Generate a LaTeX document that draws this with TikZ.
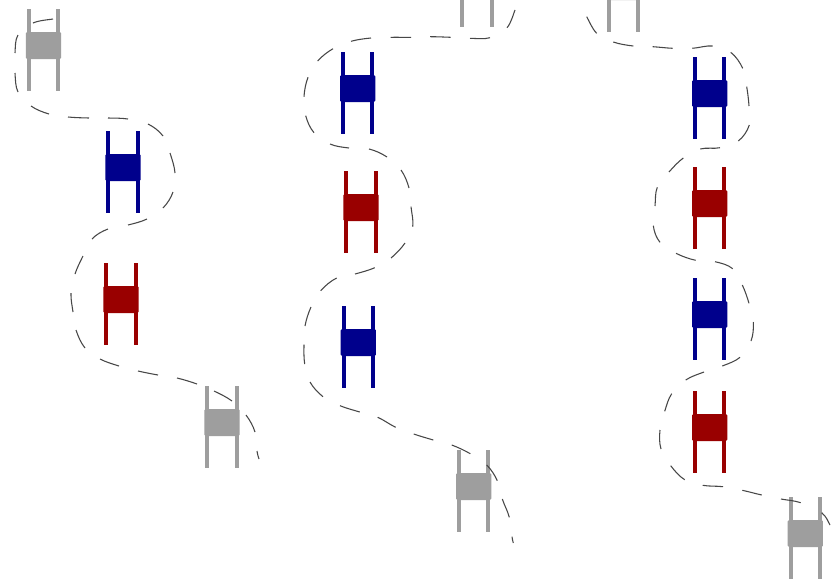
\documentclass[tikz,border=0pt]{standalone}
\usetikzlibrary{calc}
\definecolor{robblue}{RGB}{0,0,140}
\definecolor{robred}{RGB}{153,0,0}
\definecolor{robgray}{RGB}{158,158,158}
\tikzset{
  x=0.75pt,y=-0.75pt,
  trail/.style={draw=black!72,line width=0.8pt},
  leg/.style={line width=3pt},
  pics/robot/.style={code={
    \draw[leg,draw=#1] (-14.7,0) -- (-14.7,82);
    \draw[leg,draw=#1] (14.7,0) -- (14.7,82);
    \fill[#1,rounded corners=1pt] (-17.6,23) rectangle (17.6,50);
  }}
}
% Each pair of points in the list is one stroke of the broken trail;
% the curve of a stroke follows its neighbours in the list.
\newcommand\trailstrokes[1]{%
  \foreach \p [count=\n] in {#1} {\path \p coordinate (q\n); \xdef\qcount{\n}}
  \foreach \i in {1,3,...,\qcount} {
    \pgfmathtruncatemacro\qh{max(\i-1,1)}
    \pgfmathtruncatemacro\qj{\i+1}
    \pgfmathtruncatemacro\qk{min(\i+2,\qcount)}
    \draw[trail] (q\i) .. controls ($(q\i)+0.17*(q\qj)-0.17*(q\qh)$) and ($(q\qj)-0.17*(q\qk)+0.17*(q\i)$) .. (q\qj);
  }
}
\begin{document}
\begin{tikzpicture}
\clip (0,0) rectangle (834,579);
\fill[white] (0,0) rectangle (834,579);
% column 1
\pic at (43.5,9) {robot=robgray};
\pic at (123,131) {robot=robblue};
\pic at (121,263) {robot=robred};
\pic at (222,386) {robot=robgray};
% column 2
\pic at (477,-55) {robot=robgray};
\pic at (357.7,52) {robot=robblue};
\pic at (361,171) {robot=robred};
\pic at (358.3,306) {robot=robblue};
\pic at (473.7,450) {robot=robgray};
% column 3
\pic at (623.7,-50) {robot=robgray};
\pic at (709.7,57) {robot=robblue};
\pic at (709.7,167) {robot=robred};
\pic at (709.7,278) {robot=robblue};
\pic at (709.7,391) {robot=robred};
\pic at (805.3,497) {robot=robgray};
% trails
\trailstrokes{(53,19),(33,23),(18,35),(15,53),(15,73),(18,92),(31,106),(49,114),(68,117),(89,118),(108,118),(128,119),(148,124),(163,136),(170,153),(175,173),(173,192),(163,208),(147,219),(128,225),(108,229),(92,239),(83,256),(75,274),(71,293),(73,312),(76,330),(85,348),(100,359),(119,366),(138,371),(158,375),(177,378),(197,384),(214,391),(232,401),(246,415),(255,432),(257,451),(259,459)}
\trailstrokes{(515,10),(507,27.7),(490,37.7),(470,38.3),(450.7,37.3),(430,36.7),(411,37.3),(390.7,37.3),(371,38),(351,41.3),(333,48.7),(317.7,61),(308,77.3),(304,96.7),(305.7,115.7),(314,132.7),(330,144),(349,148),(369,149),(387,157),(401,170),(409,188),(411,206.7),(412.7,226.7),(405,243),(391,258),(374.7,267.7),(355,274),(336.7,278),(320.7,290.7),(311,307),(305,326),(304,344.7),(304.7,364),(310,382),(323,396.7),(340,405.7),(359.7,412),(377.7,417.3),(395.7,427.3),(413.7,434),(433.3,440),(451.7,445),(470.3,453.7),(486.7,465),(497.3,480.7),(502.3,499),(509.3,517.3),(512,536.7),(513.3,543)}
\trailstrokes{(586.7,16.7),(596.7,33.3),(613.3,42),(633.3,46),(652.7,46.7),(672.7,48.3),(692.3,48.3),(712.7,46),(730.7,52.3),(742.7,68.3),(746.7,86.7),(749,106),(749.3,125),(738.3,141),(720,147.7),(700.3,149),(683.3,158),(669,172),(657.3,187.3),(655,206),(653.3,225.7),(660,242.3),(676,253.3),(695.7,260.3),(715,261.7),(732.7,268.7),(742.3,285),(749,303.3),(753.3,322),(751,341),(740,357.3),(722.3,366),(704,372),(685.7,380),(671.7,393.7),(664.7,411.3),(660,430),(661,449),(670.7,465.7),(684.7,479.7),(702.7,485.3),(723,486.7),(742.3,490.3),(761.7,495),(781,499),(800.7,502.7),(821.7,512.7),(830,525)}
\end{tikzpicture}
\end{document}
